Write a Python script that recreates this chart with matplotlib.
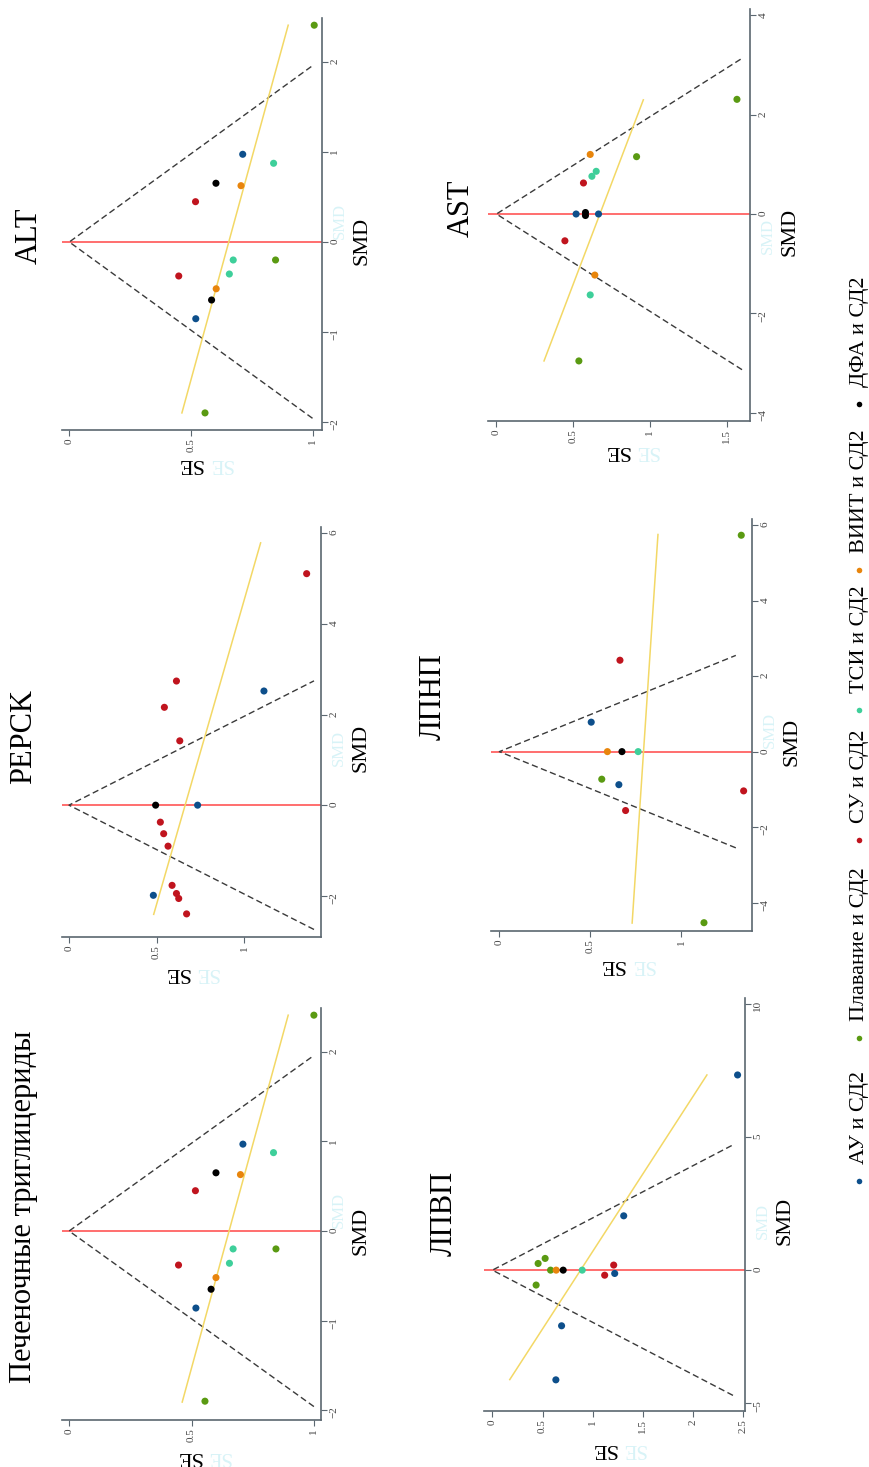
import numpy as np
import matplotlib.pyplot as plt
from matplotlib.ticker import FuncFormatter

plt.rcParams['font.family'] = ['Liberation Serif', 'DejaVu Serif']

# legend groups (0..5)
groups = ['АУ и СД2', 'Плавание и СД2', 'СУ и СД2', 'ТСИ и СД2', 'ВИИТ и СД2', 'ДФА и СД2']
colors = ['#0d4f8b', '#5a9a12', '#c0141e', '#3ecf9a', '#e8850c', '#000000']

titles = ['Печеночные триглицериды', 'PEPCK', 'ALT', 'ЛПВП', 'ЛПНП', 'AST']

# Печеночные триглицериды
tg_se = [1.00, 0.71, 0.835, 0.60, 0.70, 0.516, 0.67, 0.845, 0.447, 0.655, 0.60, 0.58, 0.518, 0.555]
tg_smd = [2.41, 0.97, 0.875, 0.65, 0.63, 0.45, -0.20, -0.20, -0.38, -0.36, -0.52, -0.65, -0.86, -1.90]
tg_grp = [1, 0, 3, 5, 4, 2, 3, 1, 2, 3, 4, 5, 0, 1]
tg_funnel = 1.0
tg_egger_se, tg_egger_smd = [0.462, 0.895], [-1.91, 2.41]

# PEPCK
pepck_se = [1.358, 0.614, 1.114, 0.545, 0.633, 0.495, 0.735, 0.522, 0.541, 0.566, 0.589, 0.482, 0.614, 0.627, 0.672]
pepck_smd = [5.11, 2.74, 2.52, 2.16, 1.42, 0.0, 0.0, -0.375, -0.63, -0.905, -1.77, -1.99, -1.95, -2.06, -2.40]
pepck_grp = [2, 2, 0, 2, 2, 5, 0, 2, 2, 2, 2, 0, 2, 2, 2]
pepck_funnel = 1.40
pepck_egger_se, pepck_egger_smd = [0.484, 1.095], [-2.41, 5.79]

# ALT
alt_se = [1.007, 0.713, 0.84, 0.603, 0.706, 0.519, 0.674, 0.848, 0.45, 0.658, 0.604, 0.585, 0.52, 0.558]
alt_smd = [2.41, 0.975, 0.875, 0.653, 0.626, 0.448, -0.20, -0.20, -0.378, -0.356, -0.52, -0.645, -0.853, -1.90]
alt_grp = [1, 0, 3, 5, 4, 2, 3, 1, 2, 3, 4, 5, 0, 1]
alt_funnel = 1.0
alt_egger_se, alt_egger_smd = [0.463, 0.90], [-1.90, 2.41]

# ЛПВП
hdl_se = [2.446, 1.31, 0.526, 0.456, 1.21, 0.58, 0.636, 0.706, 0.896, 1.22, 1.12, 0.436, 0.69, 0.633]
hdl_smd = [7.33, 2.04, 0.44, 0.25, 0.19, 0.0, 0.0, 0.0, 0.0, -0.125, -0.19, -0.56, -2.09, -4.12]
hdl_grp = [0, 0, 1, 1, 2, 1, 4, 5, 3, 0, 2, 1, 0, 0]
hdl_funnel = 2.4
hdl_egger_se, hdl_egger_smd = [0.173, 2.14], [-4.11, 7.33]

# ЛПНП
ldl_se = [1.33, 0.663, 0.505, 0.594, 0.674, 0.763, 0.563, 0.657, 1.343, 0.694, 1.125]
ldl_smd = [5.73, 2.42, 0.78, 0.0, 0.0, 0.0, -0.73, -0.875, -1.04, -1.56, -4.53]
ldl_grp = [1, 2, 0, 4, 5, 3, 1, 0, 2, 2, 1]
ldl_funnel = 1.30
ldl_egger_se, ldl_egger_smd = [0.73, 0.872], [-4.54, 5.75]

# AST
ast_se = [1.567, 0.611, 0.913, 0.65, 0.622, 0.567, 0.519, 0.58, 0.58, 0.665, 0.446, 0.641, 0.611, 0.537]
ast_smd = [2.31, 1.20, 1.155, 0.86, 0.76, 0.625, 0.0, 0.03, -0.03, 0.0, -0.54, -1.23, -1.63, -2.96]
ast_grp = [1, 4, 1, 3, 3, 2, 0, 5, 5, 0, 2, 4, 3, 1]
ast_funnel = 1.6
ast_egger_se, ast_egger_smd = [0.31, 0.957], [-2.96, 2.30]

se_ticks = [[0, 0.5, 1], [0, 0.5, 1], [0, 0.5, 1],
            [0, 0.5, 1, 1.5, 2, 2.5], [0, 0.5, 1], [0, 0.5, 1, 1.5]]
smd_ticks = [[-2, -1, 0, 1, 2], [-2, 0, 2, 4, 6], [-2, -1, 0, 1, 2],
             [-5, 0, 5, 10], [-4, -2, 0, 2, 4, 6], [-4, -2, 0, 2, 4]]

# layout (figure is drawn turned by 90 degrees, like the source picture)
W, H = 870, 1467
boxes = [(62, 321, 1008, 1420), (62, 321, 527, 937), (62, 322, 18, 430),
         (484, 745, 998, 1411), (491, 752, 519, 931), (488, 750, 9, 421)]
se_lims = [(-0.029, 1.029), (-0.04, 1.44), (-0.03, 1.039),
           (-0.084, 2.52), (-0.046, 1.389), (-0.055, 1.652)]
smd_lims = [(-2.11, 2.49), (-2.91, 6.14), (-2.09, 2.49),
            (-5.29, 10.22), (-4.75, 6.16), (-4.17, 4.13)]
title_pos = [(24, 1207), (24, 737), (29, 236), (444, 1213), (433, 697), (461, 208)]
se_lab_pos = [(189, 1457), (177, 972), (190, 463), (604, 1448), (612, 965), (617, 451)]
ghost_smd_y = [1210, 748, 221, 1221, 730, 236]

AXC = '#5b6770'
GHOST = '#d8f3f7'


def fxy(x, y):
    return x / W, 1 - y / H


def fmt_num(v, pos):
    s = '%g' % v
    return s.replace('-', '\u2212')


def draw_panel(ax, se, smd, grp, fmax, eg_se, eg_smd):
    ax.axhline(0, color='#ff5555', lw=1.2, zorder=1)
    ax.plot([fmax, 0, fmax], [-1.96 * fmax, 0, 1.96 * fmax],
            color='#3a3a3a', lw=1.0, ls=(0, (4.5, 2.5)), zorder=2)
    ax.plot(eg_se, eg_smd, color='#f3d866', lw=1.1, zorder=2)
    ax.scatter(se, smd, c=[colors[g] for g in grp], s=26, lw=0, zorder=3)


fig = plt.figure(figsize=(W / 100, H / 100), dpi=100)

data = [(tg_se, tg_smd, tg_grp, tg_funnel, tg_egger_se, tg_egger_smd),
        (pepck_se, pepck_smd, pepck_grp, pepck_funnel, pepck_egger_se, pepck_egger_smd),
        (alt_se, alt_smd, alt_grp, alt_funnel, alt_egger_se, alt_egger_smd),
        (hdl_se, hdl_smd, hdl_grp, hdl_funnel, hdl_egger_se, hdl_egger_smd),
        (ldl_se, ldl_smd, ldl_grp, ldl_funnel, ldl_egger_se, ldl_egger_smd),
        (ast_se, ast_smd, ast_grp, ast_funnel, ast_egger_se, ast_egger_smd)]

for i, d in enumerate(data):
    x0, x1, yt, yb = boxes[i]
    ax = fig.add_axes([x0 / W, 1 - yb / H, (x1 - x0) / W, (yb - yt) / H])
    draw_panel(ax, *d)
    ax.set_xlim(*se_lims[i])
    ax.set_ylim(*smd_lims[i])
    ax.set_xticks(se_ticks[i])
    ax.set_yticks(smd_ticks[i])
    ax.xaxis.set_major_formatter(FuncFormatter(fmt_num))
    ax.yaxis.set_major_formatter(FuncFormatter(fmt_num))
    ax.yaxis.tick_right()
    ax.spines['left'].set_visible(False)
    ax.spines['top'].set_visible(False)
    for s in ['bottom', 'right']:
        ax.spines[s].set_color(AXC)
        ax.spines[s].set_linewidth(1.2)
    ax.tick_params(axis='both', direction='out', length=4, width=0.8, color=AXC,
                   labelsize=8, labelcolor='#444444', pad=2, labelrotation=90)
    ax.patch.set_alpha(0)

    # title, axis titles (with the faint doubled copies seen in the source)
    tx, ty = title_pos[i]
    fig.text(*fxy(tx, ty), titles[i], rotation=90, ha='center', va='center', fontsize=22)
    smd_y = yt + 0.54 * (yb - yt)
    fig.text(*fxy(x1 + 18, ghost_smd_y[i]), 'SMD', rotation=90, ha='center', va='center',
             fontsize=12, color=GHOST, zorder=0)
    fig.text(*fxy(x1 + 40, smd_y), 'SMD', rotation=90, ha='center', va='center', fontsize=16)
    sx, sy = se_lab_pos[i]
    fig.text(*fxy(sx + 30, sy), 'SE', rotation=180, ha='center', va='center',
             fontsize=15, color=GHOST, zorder=0)
    fig.text(*fxy(sx, sy), 'SE', rotation=180, ha='center', va='center', fontsize=16)

# legend, laid out along the right edge
lax = fig.add_axes([0, 0, 1, 1])
lax.set_xlim(0, W)
lax.set_ylim(H, 0)
lax.axis('off')
bullet_y = [1181, 1038, 840, 710, 570, 404]
for g, name in enumerate(groups):
    lax.scatter([859], [bullet_y[g]], s=16, color=colors[g], lw=0)
    lax.text(860, bullet_y[g] - 17, name, rotation=90, rotation_mode='anchor',
             ha='left', va='center', fontsize=16)

fig.savefig('out.png', dpi=100)
